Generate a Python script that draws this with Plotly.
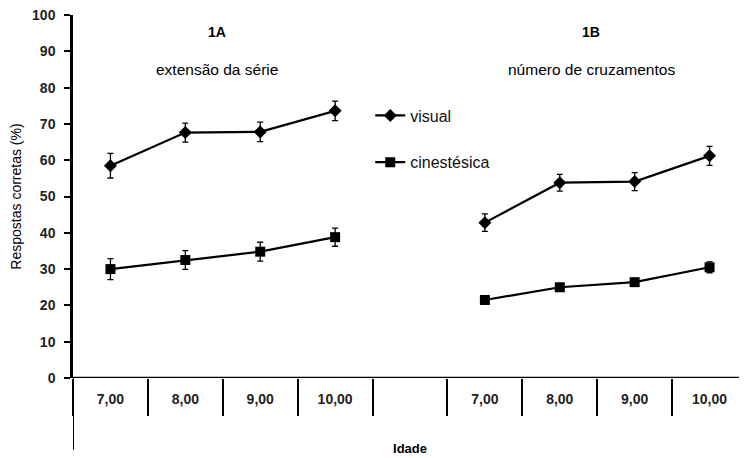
import plotly.graph_objects as go

# ---- data ----
idades = ["7,00", "8,00", "9,00", "10,00"]
slots = idades + [""] + idades  # 1A block, gap, 1B block

visual_1a = [58.5, 67.6, 67.8, 73.6]
visual_1a_err = [3.4, 2.6, 2.7, 2.7]
cines_1a = [30.0, 32.5, 34.8, 38.8]
cines_1a_err = [2.9, 2.6, 2.6, 2.5]

visual_1b = [42.8, 53.8, 54.1, 61.2]
visual_1b_err = [2.4, 2.3, 2.5, 2.6]
cines_1b = [21.5, 25.0, 26.4, 30.5]
cines_1b_err = [1.1, 0.8, 0.9, 1.5]

y_ticks = [0, 10, 20, 30, 40, 50, 60, 70, 80, 90, 100]

# positions on the numeric x axis derived from slot index
pos = list(range(1, len(slots) + 1))
pos_a = pos[:4]
pos_b = pos[5:]
bounds = [p - 0.5 for p in pos] + [pos[-1] + 0.5]

FONT = "Liberation Sans, Arial, sans-serif"
fig = go.Figure()

def add_series(x, y, err, symbol, size, name, show):
    fig.add_trace(go.Scatter(
        x=x, y=y, mode="lines+markers", name=name, showlegend=show,
        legendgroup=name,
        line=dict(color="black", width=2.2),
        marker=dict(symbol=symbol, size=size, color="black"),
        error_y=dict(type="data", array=err, visible=True, color="black",
                     thickness=1.3, width=3),
    ))

add_series(pos_a, visual_1a, visual_1a_err, "diamond", 10, "visual", True)
add_series(pos_a, cines_1a, cines_1a_err, "square", 10, "cinestésica", True)
add_series(pos_b, visual_1b, visual_1b_err, "diamond", 10, "visual", False)
add_series(pos_b, cines_1b, cines_1b_err, "square", 10, "cinestésica", False)

# page body has an 8px default margin; size the figure to fit the window
fig.update_layout(
    width=739, height=450,
    margin=dict(l=65, r=0, t=7, b=80),
    paper_bgcolor="white", plot_bgcolor="white",
    font=dict(family=FONT, color="black", size=12),
    showlegend=True,
    legend=dict(x=0.441, y=0.77, xanchor="left", yanchor="top",
                bgcolor="rgba(0,0,0,0)", font=dict(size=16, family=FONT, color="#111"),
                tracegroupgap=23, itemwidth=30),
    xaxis=dict(
        automargin=False,
        range=[bounds[0], bounds[-1]],
        tickmode="array", tickvals=pos, ticktext=slots,
        ticks="", showgrid=False, zeroline=False,
        tickfont=dict(size=14, family=FONT, weight="bold", color="#222"),
        ticklabelstandoff=11,
        showline=False,
        minor=dict(tickmode="array", tickvals=bounds, ticks="outside",
                   ticklen=37, tickwidth=2, tickcolor="black", showgrid=False),
        title=dict(text="Idade", font=dict(size=13, family=FONT, weight="bold"),
                   standoff=37),
    ),
    yaxis=dict(
        automargin=False,
        range=[0, 100], tickmode="array", tickvals=y_ticks,
        ticks="outside", ticklen=6, tickwidth=2, tickcolor="black",
        showline=True, linewidth=2.5, linecolor="black",
        showgrid=False, zeroline=False,
        tickfont=dict(size=14, family=FONT, weight="bold", color="#222"),
        ticklabelstandoff=6, ticklabeloverflow="allow",
        title=dict(text="Respostas corretas (%)", font=dict(size=14, family=FONT),
                   standoff=11),
    ),
)

# x axis baseline and the long outer boundary lines
fig.add_shape(type="line", xref="x", yref="y", x0=bounds[0], x1=bounds[-1], y0=0, y1=0,
              line=dict(color="black", width=2.5))
for b in (bounds[0], bounds[-1]):
    fig.add_shape(type="line", xref="x", yref="paper", x0=b, x1=b, y0=0, y1=-0.198,
                  line=dict(color="black", width=2))

# panel titles
mid_a = (pos_a[0] + pos_a[-1]) / 2
mid_b = (pos_b[0] + pos_b[-1]) / 2
for xm, t1, t2 in ((mid_a, "1A", "extensão da série"), (mid_b, "1B", "número de cruzamentos")):
    fig.add_annotation(x=xm, y=0.98, xref="x", yref="paper", text=t1, showarrow=False,
                       xshift=-6, font=dict(size=14, family=FONT, weight="bold"))
    fig.add_annotation(x=xm, y=0.88, xref="x", yref="paper", text=t2, showarrow=False,
                       xshift=-6, font=dict(size=15.5, family=FONT))

fig.write_html("out.html")
